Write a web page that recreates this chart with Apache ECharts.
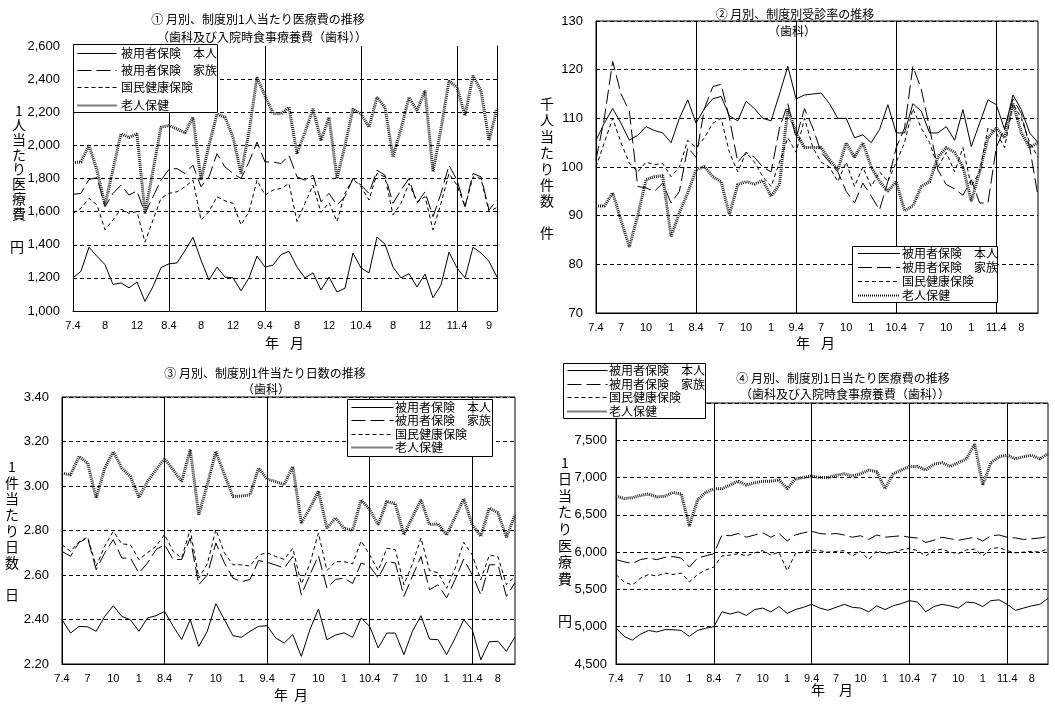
<!DOCTYPE html>
<html><head><meta charset="utf-8">
<script src="https://cdn.jsdelivr.net/npm/echarts@6/dist/echarts.min.js"></script>
<style>html,body{margin:0;padding:0;background:#fff}#c{width:1055px;height:708px}</style>
</head><body><div id="c"></div>
<script>
const months = ['7.4','7.5','7.6','7.7','7.8','7.9','7.10','7.11','7.12','8.1','8.2','8.3',
'8.4','8.5','8.6','8.7','8.8','8.9','8.10','8.11','8.12','9.1','9.2','9.3',
'9.4','9.5','9.6','9.7','9.8','9.9','9.10','9.11','9.12','10.1','10.2','10.3',
'10.4','10.5','10.6','10.7','10.8','10.9','10.10','10.11','10.12','11.1','11.2','11.3',
'11.4','11.5','11.6','11.7','11.8','11.9'];

const seriesNames = ['被用者保険　本人','被用者保険　家族','国民健康保険','老人保健'];

const ticks1 = [[0,'7.4'],[4,'8'],[8,'12'],[12,'8.4'],[16,'8'],[20,'12'],[24,'9.4'],[28,'8'],[32,'12'],[36,'10.4'],[40,'8'],[44,'12'],[48,'11.4'],[52,'9']];
const ticks3 = [[0,'7.4'],[3,'7'],[6,'10'],[9,'1'],[12,'8.4'],[15,'7'],[18,'10'],[21,'1'],[24,'9.4'],[27,'7'],[30,'10'],[33,'1'],[36,'10.4'],[39,'7'],[42,'10'],[45,'1'],[48,'11.4'],[51,'8']];

// ① 1人当たり医療費 (円)
const c1Honnin = [1200,1240,1385,1330,1280,1160,1170,1140,1175,1058,1148,1262,
 1285,1290,1365,1445,1307,1187,1265,1205,1200,1122,1200,1332,
 1265,1277,1340,1361,1265,1200,1230,1127,1205,1115,1138,1350,
 1260,1230,1447,1403,1265,1200,1225,1145,1223,1080,1157,1355,
 1260,1200,1385,1350,1300,1205];
const c1Kazoku = [1705,1710,1795,1805,1630,1710,1760,1700,1725,1590,1690,1790,
 1855,1860,1830,1880,1750,1810,1950,1870,1830,1800,1900,2020,
 1900,1900,1890,1940,1810,1790,1820,1660,1710,1640,1690,1800,
 1760,1710,1850,1820,1650,1730,1800,1650,1720,1570,1710,1880,
 1790,1630,1830,1810,1610,1670];
const c1Kokuho = [1590,1620,1680,1640,1490,1550,1615,1590,1600,1415,1550,1680,
 1710,1720,1750,1790,1550,1600,1690,1665,1650,1520,1600,1790,
 1700,1730,1740,1770,1540,1650,1760,1595,1655,1540,1710,1800,
 1750,1670,1830,1810,1580,1650,1770,1660,1690,1490,1650,1830,
 1760,1630,1810,1800,1600,1625];
const c1Rojin = [1895,1900,2000,1850,1640,1855,2070,2048,2070,1590,1850,2110,
 2120,2100,2075,2170,1790,2000,2190,2170,2050,1830,2080,2410,
 2300,2193,2190,2230,1950,2080,2220,2030,2170,1800,2000,2220,
 2190,2110,2290,2230,1930,2100,2290,2210,2330,1840,2100,2390,
 2350,2180,2420,2330,2030,2220];

// ② 受診率 (千人当たり件数)
const c2Honnin = [105.5,109,112,109,105.5,106.5,108.3,107.5,107,105,110,113.8,
 109,112,114,114.5,110.5,109.5,113.5,112,110,109.5,115,120.7,
 114,114.8,115,115.2,113,110,110,106,106.6,105,107.7,112.8,
 107,107,113,111.5,107,107,108.3,105.5,111.8,104.2,109,113.8,
 112.8,107.7,114.8,111.8,107,105];
const c2Kazoku = [101.5,110,121.7,115,111.5,96,95.7,95,96.7,92.6,95,104,
 102,112,116.5,117,110,101,103,102,100,99,108,113,
 106,112,108,103,101,99,95,92.6,96.7,94,91.2,97,
 104,108,120.7,116,108,99.4,96.4,95.5,94.2,97.4,92.6,92.6,
 104,108,114,111,104,94];
const c2Kokuho = [100,105,110,105,100.8,99,101,100.5,100.7,98,100,105.5,
 104,106,109,110,103,99,103,101,98,96,101,106,
 103,110,104,101,100,97,101,96,100,96,99,97,
 101,105,112,108,105,100,103,99,104,96,99,108,
 107,104,113,110,105,102];
const c2Rojin = [92,92,94.7,89,83.6,90,97.4,98,98.2,85.7,90.6,94.7,
 99.4,100.1,98,97,90.2,96.4,97,96.5,97.2,94,96.4,112,
 107,104,104,104,101.5,99.4,105,102,105,100,97,95,
 97,91,92,96,97,102,104,103,100,93,99,106,
 108,106,113,107,104,105];

// ③ 1件当たり日数 (日)
const c3Honnin = [2.399,2.339,2.369,2.367,2.347,2.414,2.462,2.414,2.399,2.347,2.407,2.417,
 2.436,2.37,2.31,2.399,2.279,2.347,2.471,2.40,2.327,2.32,2.347,2.369,
 2.372,2.317,2.294,2.332,2.234,2.354,2.447,2.309,2.33,2.34,2.32,2.407,
 2.369,2.272,2.339,2.339,2.242,2.347,2.417,2.312,2.309,2.242,2.317,2.399,
 2.354,2.219,2.30,2.302,2.257,2.322];
const c3Kazoku = [2.706,2.684,2.747,2.766,2.624,2.70,2.759,2.676,2.676,2.609,2.654,2.714,
 2.736,2.67,2.67,2.766,2.556,2.60,2.744,2.654,2.586,2.57,2.58,2.665,
 2.657,2.645,2.631,2.683,2.511,2.60,2.687,2.541,2.58,2.586,2.562,2.654,
 2.64,2.586,2.661,2.654,2.504,2.594,2.683,2.534,2.556,2.497,2.579,2.672,
 2.60,2.511,2.646,2.646,2.504,2.566];
const c3Kokuho = [2.736,2.706,2.75,2.77,2.64,2.73,2.796,2.74,2.736,2.669,2.70,2.729,
 2.782,2.706,2.676,2.804,2.586,2.65,2.804,2.70,2.646,2.646,2.64,2.69,
 2.70,2.683,2.67,2.72,2.56,2.65,2.789,2.62,2.66,2.66,2.65,2.753,
 2.69,2.62,2.72,2.714,2.556,2.65,2.766,2.62,2.61,2.54,2.63,2.747,
 2.69,2.579,2.69,2.683,2.556,2.594];
const c3Rojin = [3.058,3.05,3.133,3.103,2.946,3.08,3.155,3.08,3.043,2.949,3.02,3.073,
 3.123,3.073,3.02,3.163,2.871,3.006,3.155,3.051,2.953,2.955,2.96,3.081,
 3.03,3.02,3.006,3.088,2.834,2.90,2.976,2.811,2.856,2.81,2.80,2.938,
 2.893,2.826,2.931,2.92,2.781,2.86,2.938,2.826,2.83,2.78,2.86,2.943,
 2.826,2.774,2.901,2.88,2.77,2.87];

// ④ 1日当たり医療費 (円)
const c4Honnin = [4980,4870,4820,4900,4950,4930,4960,4960,4950,4870,4950,4980,
 5000,5200,5170,5200,5150,5230,5250,5200,5270,5180,5230,5260,
 5300,5250,5220,5260,5300,5260,5250,5200,5280,5230,5280,5310,
 5350,5330,5200,5270,5300,5280,5250,5330,5320,5270,5350,5360,
 5300,5220,5250,5280,5300,5380];
const c4Kazoku = [5900,5870,5850,5900,5920,5900,5930,5940,5920,5800,5920,5950,
 5980,6230,6220,6250,6200,6230,6260,6200,6250,6150,6230,6260,
 6280,6250,6240,6250,6230,6200,6220,6170,6230,6200,6210,6220,
 6200,6190,6130,6160,6200,6180,6160,6180,6200,6150,6220,6230,
 6200,6190,6170,6180,6190,6210];
const c4Kokuho = [5700,5600,5560,5650,5700,5680,5720,5700,5720,5600,5700,5760,
 5800,5950,5960,5980,5950,5990,6020,5960,6000,5750,5980,6000,
 6030,6020,6000,6010,6020,5950,6010,5900,6020,5980,6000,6030,
 6050,6020,5950,6020,6040,6000,5980,6030,6040,5950,6050,6060,
 6020,5990,6000,6010,6000,6050];
const c4Rojin = [6750,6720,6730,6760,6780,6740,6750,6800,6780,6350,6700,6800,
 6850,6850,6900,6950,6900,6930,6950,6950,6970,6850,6980,7000,
 7020,7000,7000,7030,7050,7020,7050,7100,7080,6850,7050,7100,
 7150,7150,7100,7180,7200,7150,7200,7250,7450,6900,7200,7280,
 7300,7250,7280,7300,7250,7320];

const CJK = '"Noto Sans CJK JP"';
const NUM = '"Liberation Sans", Arial, sans-serif';
const lineStyles = [
  {color:'#000', width:1, type:'solid'},
  {color:'#000', width:1, type:[14,5]},
  {color:'#000', width:1, type:[4,3]},
  {color:'#222', width:3, type:[1,1]}
];
const dashFor = [null, [14,5], [4,3], [1,1]];
const T = 'rgba(0,0,0,0)';

const panels = [
  {grid:{left:73, top:46, width:424, height:265, show:false},
   y:{min:1000,max:2600,interval:200,fmt:v=>v.toLocaleString('en-US'),margin:13,
      gridColors:['#000','#000','#000','#000','#000','#000','#000','#000',T]},
   ticks:ticks1, data:[c1Honnin,c1Kazoku,c1Kokuho,c1Rojin],
   legend:{x:73, y:44, w:144, h:68, row0:9, step:17.2, sx:4.5, sw:39, tx:48}},
  {grid:{left:596, top:21, width:442, height:292, show:true},
   y:{min:70,max:130,interval:10,fmt:v=>String(v),margin:13, gridColors:'#000'},
   ticks:ticks3, data:[c2Honnin,c2Kazoku,c2Kokuho,c2Rojin],
   legend:{x:852, y:246, w:145, h:56, row0:7, step:14, sx:6, sw:42, tx:50}},
  {grid:{left:62, top:397, width:453, height:267, show:true},
   y:{min:2.2,max:3.4,interval:0.2,fmt:v=>v.toFixed(2),margin:13, gridColors:'#000'},
   ticks:ticks3, data:[c3Honnin,c3Kazoku,c3Kokuho,c3Rojin],
   legend:{x:347, y:399, w:145, h:57, row0:7.5, step:13.5, sx:4.5, sw:42, tx:48}},
  {grid:{left:616, top:403, width:432, height:261, show:true},
   y:{min:4500,max:8000,interval:500,fmt:v=>v.toLocaleString('en-US'),margin:9, gridColors:'#000'},
   ticks:ticks3, data:[c4Honnin,c4Kazoku,c4Kokuho,c4Rojin],
   legend:{x:563, y:363, w:142, h:55, row0:7, step:13.7, sx:4.5, sw:40, tx:46}}
];

const grid=[], xAxis=[], yAxis=[], series=[];
const graphic = [];
panels.forEach((p,k)=>{
  grid.push(Object.assign({borderColor:'#000', borderWidth:1, containLabel:false}, p.grid));
  const tmap = {}; p.ticks.forEach(t=>{tmap[t[0]]=t[1];});
  xAxis.push({type:'category', gridIndex:k, data:months, boundaryGap:false,
    axisLine:{lineStyle:{color:'#000',width:1}}, axisTick:{show:false},
    axisLabel:{interval:0, margin:9, color:'#000', fontSize:11, fontFamily:NUM,
      formatter:(v,i)=>tmap[i]!==undefined?tmap[i]:''},
    splitLine:{show:true, interval:(i)=>i>0 && i%12===0, lineStyle:{color:'#000',width:1,type:'solid'}}
  });
  yAxis.push({type:'value', gridIndex:k, min:p.y.min, max:p.y.max, interval:p.y.interval,
    axisLine:{show:true, lineStyle:{color:'#000',width:1}}, axisTick:{show:false},
    axisLabel:{color:'#000', fontSize:13, fontFamily:NUM, margin:p.y.margin, formatter:p.y.fmt},
    splitLine:{show:true, lineStyle:{color:p.y.gridColors, width:1, type:[4,3]}}
  });
  p.data.forEach((d,s)=>{
    series.push({type:'line', name:seriesNames[s], xAxisIndex:k, yAxisIndex:k, data:d,
      symbol:'none', showSymbol:false, lineStyle:lineStyles[s], z:2+s, silent:true});
  });
  const L = p.legend;
  graphic.push({type:'rect', z:100, silent:true, shape:{x:L.x+0.5, y:L.y+0.5, width:L.w, height:L.h},
    style:{fill:'#fff', stroke:'#000', lineWidth:1}});
  seriesNames.forEach((nm,s)=>{
    const ry = Math.round(L.y + L.row0 + s*L.step) + 0.5;
    graphic.push({type:'line', z:101, silent:true,
      shape:{x1:L.x+L.sx, y1:ry, x2:L.x+L.sx+L.sw, y2:ry},
      style:{stroke:'#000', lineWidth:s===3?2:1, lineDash:dashFor[s]}});
    graphic.push({type:'text', z:101, silent:true, x:L.x+L.tx, y:ry,
      style:{text:nm, fill:'#000', font:'12px '+CJK, textAlign:'left', textVerticalAlign:'middle'}});
  });
});
yAxis.push({type:'value', gridIndex:0, position:'right', min:1000, max:2600,
  axisLine:{show:true, lineStyle:{color:'#000',width:1}}, axisTick:{show:false},
  axisLabel:{show:false}, splitLine:{show:false}});

function txt(text, x, y, size){
  return {type:'text', x:x, y:y, z:20, silent:true,
    style:{text:text, fill:'#000', font:size+'px '+CJK, textAlign:'center', textVerticalAlign:'middle'}};
}
function vtxt(text, x, top, size, lh){
  return {type:'text', x:x, y:top, z:20, silent:true,
    style:{text:text.split('').join('\n'), fill:'#000', font:size+'px '+CJK, textAlign:'center',
      textVerticalAlign:'top', lineHeight:lh}};
}
graphic.push(
  txt('① 月別、制度別1人当たり医療費の推移', 258, 19, 12),
  txt('（歯科及び入院時食事療養費（歯科））', 262, 37, 12),
  txt('② 月別、制度別受診率の推移', 795, 14, 12),
  txt('（歯科）', 792, 31, 12),
  txt('③ 月別、制度別1件当たり日数の推移', 265, 373, 12),
  txt('（歯科）', 266, 389, 12),
  txt('④ 月別、制度別1日当たり医療費の推移', 843, 378, 12),
  txt('（歯科及び入院時食事療養費（歯科））', 845, 394, 12),
  vtxt('1人当たり医療費', 19, 103, 14, 14.7), txt('円', 17, 247, 14),
  vtxt('千人当たり件数', 547, 96, 14, 16.1), txt('件', 547, 233, 14),
  vtxt('1件当たり日数', 12, 459, 14, 16), txt('日', 12, 595, 14),
  vtxt('1日当たり医療費', 565, 454, 14, 16.6), txt('円', 565, 621, 14),
  txt('年', 272, 343, 14), txt('月', 297, 343, 14),
  txt('年', 803, 343, 14), txt('月', 828, 343, 14),
  txt('年', 281, 695, 14), txt('月', 301, 695, 14),
  txt('年', 818, 690, 14), txt('月', 846, 690, 14)
);

const chart = echarts.init(document.getElementById('c'), null, {renderer:'canvas'});
chart.setOption({backgroundColor:'#fff', animation:false, grid, xAxis, yAxis, series, graphic});
</script></body></html>
